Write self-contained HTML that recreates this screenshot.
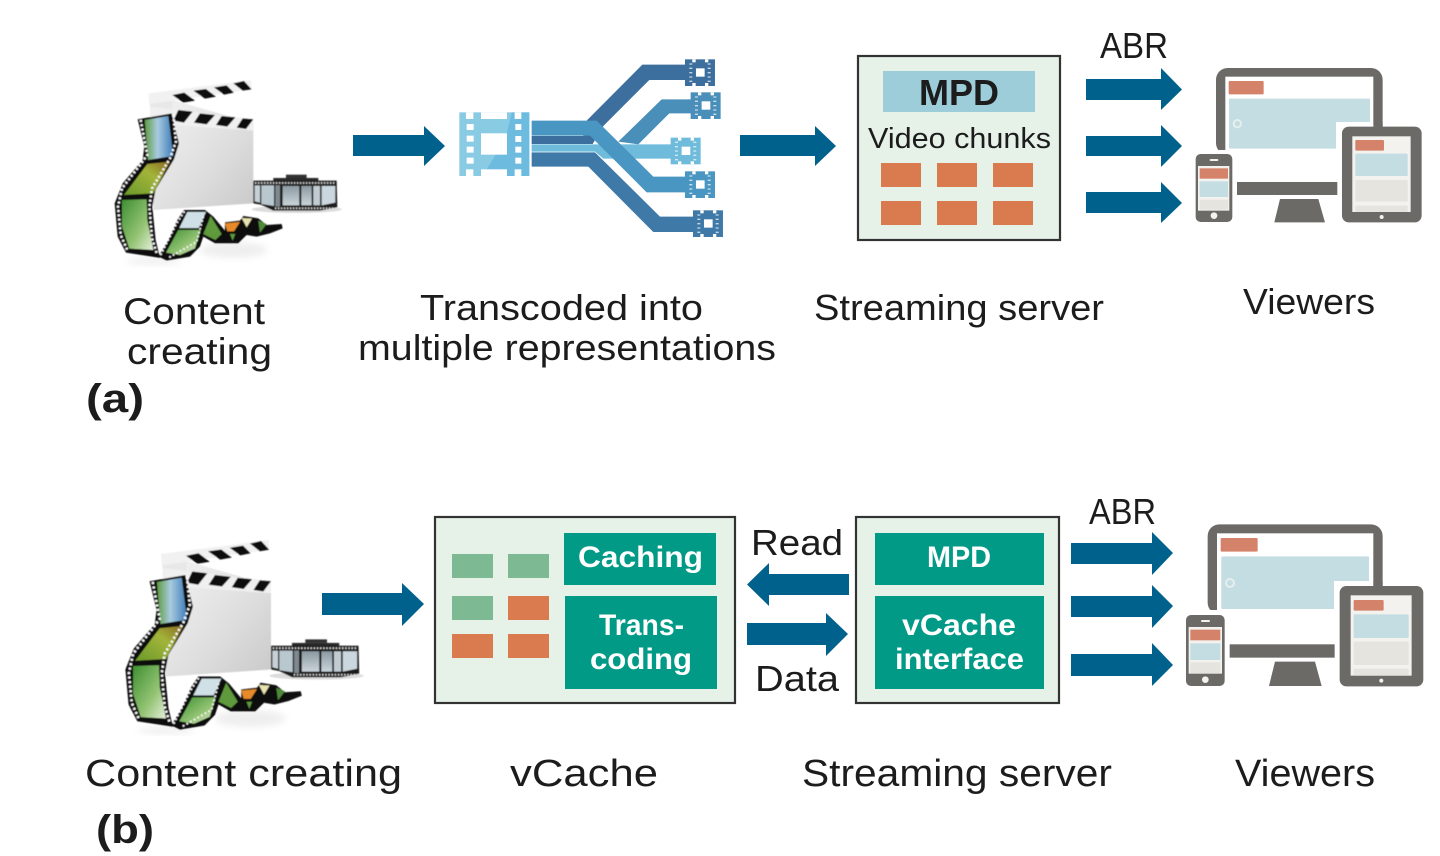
<!DOCTYPE html>
<html><head><meta charset="utf-8"><style>
html,body{margin:0;padding:0;background:#fff;width:1440px;height:856px;overflow:hidden}
svg{display:block}
text{font-family:"Liberation Sans",sans-serif;fill:#1c1c1c}
.b{font-weight:bold}
.w{fill:#fff;font-weight:bold}
</style></head><body>
<svg width="1440" height="856" viewBox="0 0 1440 856" xmlns="http://www.w3.org/2000/svg">
<defs>
<filter id="soft" x="-5%" y="-5%" width="110%" height="110%"><feGaussianBlur stdDeviation="0.400"/></filter>
<filter id="soft2" x="-30%" y="-30%" width="160%" height="160%"><feGaussianBlur stdDeviation="10"/></filter>
<linearGradient id="board" x1="0" y1="0" x2="1" y2="1"><stop offset="0" stop-color="#f4f4f4"/><stop offset=".6" stop-color="#dedede"/><stop offset="1" stop-color="#c9c9c9"/></linearGradient>
<linearGradient id="sky" x1="0" y1="0" x2="1" y2="0"><stop offset="0" stop-color="#5d9c3f"/><stop offset=".45" stop-color="#a8cbe0"/><stop offset="1" stop-color="#3f7cb8"/></linearGradient>
<linearGradient id="sun" x1="0" y1="1" x2="1" y2="0"><stop offset="0" stop-color="#6a9a2a"/><stop offset=".6" stop-color="#a3b43a"/><stop offset="1" stop-color="#8a6a20"/></linearGradient>
<linearGradient id="leaf" x1="0" y1="0" x2="1" y2="1"><stop offset="0" stop-color="#3f8f32"/><stop offset=".6" stop-color="#94c474"/><stop offset="1" stop-color="#e6f0dc"/></linearGradient>
<linearGradient id="reelf" x1="0" y1="0" x2="0" y2="1"><stop offset="0" stop-color="#8d9aa2"/><stop offset="1" stop-color="#c9d4da"/></linearGradient>

<g id="clip">
  <ellipse cx="430" cy="570" rx="100" ry="24" fill="#c8c8c8" opacity=".3" filter="url(#soft2)"/>
  <ellipse cx="190" cy="604" rx="80" ry="10" fill="#c8c8c8" opacity=".3" filter="url(#soft2)"/>
  <polygon points="180,100 490,190 490,430 190,450" fill="url(#board)"/>
  <polygon points="180,100 248,100 248,150 180,165" fill="#e8e8e8"/>
  <polygon points="176,100 483,60 485,88 178,132" fill="#f1f1f1"/>
  <polygon points="247,105 283,98 315,122 280,128" fill="#111"/>
  <polygon points="310,92 348,87 378,110 345,116" fill="#111"/>
  <polygon points="372,82 410,76 432,98 402,104" fill="#111"/>
  <polygon points="430,70 462,63 485,88 458,92" fill="#111"/>
  <polygon points="180,140 490,178 490,212 180,190" fill="#f0f0f0"/>
  <polygon points="265,150 308,155 282,188 250,182" fill="#111"/>
  <polygon points="330,160 375,165 350,193 312,188" fill="#111"/>
  <polygon points="395,168 436,172 412,200 378,195" fill="#111"/>
  <polygon points="458,175 490,178 468,207 440,203" fill="#111"/>
  <!-- reel -->
  <ellipse cx="620" cy="448" rx="135" ry="11" fill="#dcdcdc"/>
  <rect x="550" y="354" width="135" height="10" fill="#2a2a2a"/>
  <rect x="588" y="344" width="62" height="10" fill="#333"/>
  <polygon points="490,362 740,362 742,442 690,452 550,452 512,434 490,430" fill="#1a1a1a"/>
  <polygon points="494,376 510,376 510,428 494,424" fill="#c6d0d6"/>
  <polygon points="514,376 552,376 552,438 514,432" fill="#b9c7cf"/>
  <polygon points="556,376 570,376 570,440 556,440" fill="#7f8a90"/>
  <polygon points="578,378 628,378 628,436 578,436" fill="url(#reelf)"/>
  <polygon points="634,378 665,378 665,436 634,436" fill="url(#reelf)"/>
  <polygon points="670,378 690,378 690,436 670,436" fill="#c1ccd2"/>
  <polygon points="695,378 736,378 736,428 695,436" fill="#cbd7de"/>
  <path d="M495 369H738M555 445H738" stroke="#ddd" stroke-width="5" stroke-dasharray="4 5" fill="none"/>
  <!-- lower wave -->
  <polygon points="205,590 235,540 262,480 282,450 345,450 370,470 405,512 405,487 450,482 460,468 505,475 530,495 575,492 578,505 540,520 500,530 470,525 445,550 375,550 340,530 330,560 300,590 230,602" fill="#111"/>
  <polygon points="228,578 265,510 332,510 315,565 270,585" fill="url(#leaf)"/>
  <polygon points="292,456 348,456 326,504 268,504" fill="#cfe0e6"/>
  <polygon points="362,468 395,522 376,540 340,522" fill="#5f9a3c"/>
  <polygon points="405,490 450,486 432,514 412,514" fill="#e88a2a"/>
  <polygon points="420,522 436,522 428,542" fill="#5f9a3c"/>
  <polygon points="455,474 486,476 470,502" fill="#e8e3b0"/>
  <polygon points="505,482 530,492 510,518" fill="#4f8a3a"/>
  <!-- upper film -->
  <polygon points="143,178 245,160 267,250 252,298 197,388 187,440 197,540 210,594 108,578 83,530 74,430 98,370 158,300 163,260" fill="#111"/>
  <polygon points="164,180 235,168 250,288 174,300" fill="url(#sky)"/>
  <polygon points="172,312 240,305 190,400 102,405" fill="url(#sun)"/>
  <polygon points="96,420 170,418 172,480 190,570 118,566 96,500" fill="url(#leaf)"/>
  <path d="M152 180L172 285 150 315 96 385 84 440 92 525 112 570M250 165L258 245 240 295 186 385 178 440 186 535 200 580" fill="none" stroke="#fff" stroke-width="7" stroke-dasharray="6 7"/>
  <path d="M212 585L260 490 285 452M238 592L320 545 340 470" fill="none" stroke="#fff" stroke-width="5" stroke-dasharray="5 7"/>
</g>

<g id="fi">
  <rect x="0" y="0" width="90" height="80"/>
  <rect x="22" y="0" width="10" height="9" fill="#fff"/>
  <rect x="60" y="0" width="10" height="9" fill="#fff"/>
  <rect x="22" y="71" width="10" height="9" fill="#fff"/>
  <rect x="60" y="71" width="10" height="9" fill="#fff"/>
  <rect x="33" y="27" width="26" height="25" fill="#fff"/>
  <path d="M13 14h9M13 27h9M13 40h9M13 53h9M13 66h9M68 14h9M68 27h9M68 40h9M68 53h9M68 66h9" stroke="#fff" stroke-width="4" opacity=".7"/>
</g>
</defs>

<rect width="1440" height="856" fill="#fff"/>

<!-- (a) content -->
<g filter="url(#soft)"><use href="#clip" transform="translate(90,60) scale(.3333)"/></g>

<!-- arrows a -->
<g fill="#00628c">
<polygon points="353,135 424,135 424,126 445,146 424,166 424,156 353,156"/>
<polygon points="740,135 815,135 815,126 836,146 815,166 815,156 740,156"/>
<polygon points="1086,79 1161,79 1161,68 1182,89.500 1161,110 1161,100 1086,100"/>
<polygon points="1086,136 1161,136 1161,125 1182,146 1161,167 1161,156 1086,156"/>
<polygon points="1086,192 1161,192 1161,182 1182,203 1161,223 1161,213 1086,213"/>
<!-- b -->
<polygon points="322,593 402,593 402,583 424,604 402,626 402,615 322,615"/>
<polygon points="1071,543 1152,543 1152,532 1173,553 1152,575 1152,564 1071,564"/>
<polygon points="1071,596 1152,596 1152,585 1173,606 1152,628 1152,617 1071,617"/>
<polygon points="1071,654 1152,654 1152,643 1173,665 1152,686 1152,676 1071,676"/>
<polygon points="849,574 769,574 769,563 747,584.500 769,606 769,595 849,595"/>
<polygon points="747,623 826,623 826,613 848,634 826,656 826,645 747,645"/>
</g>

<!-- transcoding -->
<g transform="translate(440,50) scale(.3333)">
  <polygon points="440,212 607,44 740,44 740,90 628,90 490,228 458,282 275,282 275,258 430,258" fill="#3d6f9e"/>
  <polygon points="535,275 665,148 760,148 760,190 688,190 595,283" fill="#4a8fb9"/>
  <polygon points="275,283 700,283 700,326 490,326 465,305 275,305" fill="#6ebbdc"/>
  <polygon points="275,307 465,307 660,500 765,500 765,546 640,546 445,350 275,350" fill="#3f79a8"/>
  <polygon points="275,212 470,212 640,380 740,380 740,427 620,427 450,257 275,257" fill="#4896c1"/>
  <!-- main film icon -->
  <rect x="58" y="187" width="210" height="191" fill="#8acbe4"/>
  <polygon points="215,187 268,187 268,378 200,378 200,358 140,358 168,312 200,312 200,250" fill="#6dbce0"/>
  <rect x="78" y="187" width="22" height="20" fill="#fff"/>
  <rect x="123" y="187" width="78" height="20" fill="#fff"/>
  <rect x="224" y="187" width="20" height="20" fill="#fff"/>
  <rect x="78" y="358" width="22" height="20" fill="#fff"/>
  <rect x="123" y="358" width="78" height="20" fill="#fff"/>
  <rect x="224" y="358" width="20" height="20" fill="#fff"/>
  <rect x="123" y="250" width="78" height="64" fill="#fff"/>
  <g fill="#fff">
    <rect x="80" y="222" width="21" height="18"/><rect x="80" y="257" width="21" height="18"/><rect x="80" y="290" width="21" height="18"/><rect x="80" y="323" width="21" height="18"/>
    <rect x="226" y="222" width="18" height="18"/><rect x="226" y="258" width="18" height="18"/><rect x="226" y="290" width="18" height="18"/><rect x="226" y="323" width="18" height="18"/>
  </g>
  <use href="#fi" transform="translate(735,28)" fill="#3d6f9e"/>
  <use href="#fi" transform="translate(752,127)" fill="#4a8fb9"/>
  <use href="#fi" transform="translate(692,263)" fill="#6ebbdc"/>
  <use href="#fi" transform="translate(735,364)" fill="#4896c1"/>
  <use href="#fi" transform="translate(759,481)" fill="#3f79a8"/>
</g>

<!-- server a -->
<rect x="858" y="56" width="202" height="184" fill="#e6f1e8" stroke="#333" stroke-width="2.200"/>
<rect x="883" y="71" width="152" height="41" fill="#9ccdd9"/>
<g fill="#d97b4e">
<rect x="881" y="163" width="40" height="24"/><rect x="937" y="163" width="40" height="24"/><rect x="993" y="163" width="40" height="24"/>
<rect x="881" y="201" width="40" height="24"/><rect x="937" y="201" width="40" height="24"/><rect x="993" y="201" width="40" height="24"/>
</g>

<!-- viewers a -->
<g transform="translate(1180,60) scale(.3333)">
  <rect x="108" y="24" width="500" height="260" rx="35" fill="#6b6a67"/>
  <rect x="136" y="50" width="444" height="240" fill="#fff"/>
  <rect x="108" y="270" width="500" height="96" fill="#fff"/>
  <rect x="146" y="63" width="105" height="40" rx="3" fill="#d5826b"/>
  <rect x="147" y="116" width="423" height="150" rx="3" fill="#c3dde2"/>
  <circle cx="172" cy="191" r="11" fill="none" stroke="#e6efee" stroke-width="6"/>
  <rect x="468" y="186" width="115" height="84" fill="#fff"/>
  <rect x="580" y="186" width="28" height="14" fill="#6b6a67"/>
  <rect x="171" y="366" width="301" height="39" fill="#6b6a67"/>
  <polygon points="300,417 415,417 435,487 283,487" fill="#6b6a67"/>
  <rect x="486" y="200" width="239" height="287" rx="20" fill="#6b6a67"/>
  <rect x="517" y="229" width="175" height="227" fill="#f3f2ee"/>
  <rect x="526" y="240" width="86" height="32" rx="3" fill="#d5826b"/>
  <rect x="526" y="281" width="157" height="67" rx="3" fill="#c3dde2"/>
  <rect x="526" y="360" width="157" height="65" rx="3" fill="#e5e4df"/>
  <rect x="526" y="437" width="157" height="19" rx="3" fill="#e5e4df"/>
  <circle cx="605" cy="471" r="6" fill="#f3f2ee"/>
  <rect x="47" y="282" width="110" height="204" rx="15" fill="#6b6a67"/>
  <rect x="54" y="318" width="94" height="134" fill="#f3f2ee"/>
  <rect x="59" y="325" width="85" height="31" fill="#d5826b"/>
  <rect x="59" y="364" width="85" height="47" fill="#c3dde2"/>
  <rect x="59" y="419" width="85" height="30" fill="#e5e4df"/>
  <circle cx="102" cy="467" r="10" fill="#f3f2ee"/>
  <rect x="89" y="297" width="26" height="6" rx="3" fill="#f3f2ee"/>
</g>

<!-- (b) content -->
<g filter="url(#soft)"><use href="#clip" transform="translate(99.500,519) scale(.35)"/></g>

<!-- vCache box -->
<rect x="435" y="517" width="300" height="186" fill="#e6f1e8" stroke="#333" stroke-width="2.200"/>
<rect x="564" y="533" width="152" height="52" fill="#009a86"/>
<rect x="565" y="596" width="152" height="93" fill="#009a86"/>
<g fill="#7db992">
<rect x="452" y="554" width="41" height="24"/><rect x="508" y="554" width="41" height="24"/><rect x="452" y="596" width="41" height="24"/>
</g>
<g fill="#d97b4e">
<rect x="508" y="596" width="41" height="24"/><rect x="452" y="634" width="41" height="24"/><rect x="508" y="634" width="41" height="24"/>
</g>

<!-- server b -->
<rect x="856" y="517" width="203" height="186" fill="#e6f1e8" stroke="#333" stroke-width="2.200"/>
<rect x="875" y="533" width="169" height="52" fill="#009a86"/>
<rect x="875" y="596" width="169" height="93" fill="#009a86"/>

<!-- viewers b -->
<g transform="translate(1180,515) scale(.3333)">
  <rect x="83" y="28" width="525" height="270" rx="35" fill="#6b6a67"/>
  <rect x="111" y="55" width="469" height="250" fill="#fff"/>
  <rect x="83" y="285" width="525" height="103" fill="#fff"/>
  <rect x="122" y="69" width="111" height="41" rx="3" fill="#d5826b"/>
  <rect x="124" y="124" width="443" height="158" rx="3" fill="#c3dde2"/>
  <circle cx="150" cy="204" r="12" fill="none" stroke="#e6efee" stroke-width="6"/>
  <rect x="462" y="198" width="118" height="87" fill="#fff"/>
  <rect x="580" y="198" width="28" height="16" fill="#6b6a67"/>
  <rect x="149" y="388" width="315" height="40" fill="#6b6a67"/>
  <polygon points="285,440 405,440 425,513 267,513" fill="#6b6a67"/>
  <rect x="479" y="213" width="251" height="301" rx="20" fill="#6b6a67"/>
  <rect x="512" y="241" width="183" height="241" fill="#f3f2ee"/>
  <rect x="521" y="255" width="90" height="32" rx="3" fill="#d5826b"/>
  <rect x="521" y="298" width="165" height="71" rx="3" fill="#c3dde2"/>
  <rect x="521" y="380" width="165" height="70" rx="3" fill="#e5e4df"/>
  <rect x="521" y="461" width="165" height="21" rx="3" fill="#e5e4df"/>
  <circle cx="604" cy="497" r="6" fill="#f3f2ee"/>
  <rect x="18" y="300" width="116" height="213" rx="15" fill="#6b6a67"/>
  <rect x="26" y="336" width="100" height="140" fill="#f3f2ee"/>
  <rect x="31" y="344" width="90" height="32" fill="#d5826b"/>
  <rect x="31" y="385" width="90" height="50" fill="#c3dde2"/>
  <rect x="31" y="442" width="90" height="32" fill="#e5e4df"/>
  <circle cx="76" cy="494" r="10" fill="#f3f2ee"/>
  <rect x="63" y="315" width="27" height="6" rx="3" fill="#f3f2ee"/>
</g>

<!-- text -->
<text x="123" y="324" font-size="37" textLength="142" lengthAdjust="spacingAndGlyphs">Content</text>
<text x="127" y="364" font-size="37" textLength="145" lengthAdjust="spacingAndGlyphs">creating</text>
<text x="86" y="412" font-size="40" class="b" textLength="58" lengthAdjust="spacingAndGlyphs">(a)</text>
<text x="420" y="320" font-size="36" textLength="283" lengthAdjust="spacingAndGlyphs">Transcoded into</text>
<text x="358" y="360" font-size="36" textLength="418" lengthAdjust="spacingAndGlyphs">multiple representations</text>
<text x="814" y="320" font-size="36" textLength="290" lengthAdjust="spacingAndGlyphs">Streaming server</text>
<text x="1243" y="314" font-size="36" textLength="132" lengthAdjust="spacingAndGlyphs">Viewers</text>
<text x="1100" y="58" font-size="36" textLength="68" lengthAdjust="spacingAndGlyphs">ABR</text>
<text x="919" y="105" font-size="36" class="b" textLength="80" lengthAdjust="spacingAndGlyphs">MPD</text>
<text x="868" y="148" font-size="29" textLength="183" lengthAdjust="spacingAndGlyphs">Video chunks</text>

<text x="751" y="555" font-size="36" textLength="92" lengthAdjust="spacingAndGlyphs">Read</text>
<text x="755" y="691" font-size="36" textLength="84" lengthAdjust="spacingAndGlyphs">Data</text>
<text x="1089" y="524" font-size="36" textLength="67" lengthAdjust="spacingAndGlyphs">ABR</text>
<text x="85" y="786" font-size="38" textLength="317" lengthAdjust="spacingAndGlyphs">Content creating</text>
<text x="510" y="786" font-size="38" textLength="148" lengthAdjust="spacingAndGlyphs">vCache</text>
<text x="802" y="786" font-size="38" textLength="310" lengthAdjust="spacingAndGlyphs">Streaming server</text>
<text x="1235" y="786" font-size="38" textLength="140" lengthAdjust="spacingAndGlyphs">Viewers</text>
<text x="96" y="843" font-size="40" class="b" textLength="58" lengthAdjust="spacingAndGlyphs">(b)</text>

<text x="578" y="567" font-size="30" class="w" textLength="125" lengthAdjust="spacingAndGlyphs">Caching</text>
<text x="599" y="635" font-size="30" class="w" textLength="85" lengthAdjust="spacingAndGlyphs">Trans-</text>
<text x="590" y="669" font-size="30" class="w" textLength="102" lengthAdjust="spacingAndGlyphs">coding</text>
<text x="927" y="567" font-size="30" class="w" textLength="64" lengthAdjust="spacingAndGlyphs">MPD</text>
<text x="902" y="635" font-size="30" class="w" textLength="114" lengthAdjust="spacingAndGlyphs">vCache</text>
<text x="895" y="669" font-size="30" class="w" textLength="129" lengthAdjust="spacingAndGlyphs">interface</text>
</svg>
</body></html>
